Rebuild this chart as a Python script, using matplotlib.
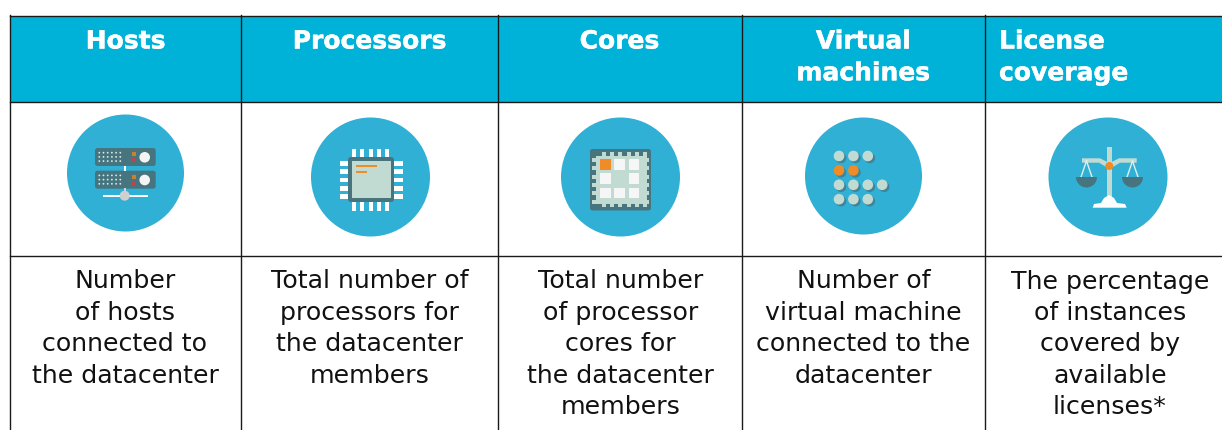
import matplotlib
matplotlib.use("Agg")
import matplotlib.pyplot as plt
from matplotlib.patches import Circle, Rectangle, FancyBboxPatch, Wedge, Polygon
import matplotlib.patheffects as pe

# Table content
headers = ["Hosts", "Processors", "Cores", "Virtual\nmachines", "License\ncoverage"]
descriptions = [
    "Number\nof hosts\nconnected to\nthe datacenter",
    "Total number of\nprocessors for\nthe datacenter\nmembers",
    "Total number\nof processor\ncores for\nthe datacenter\nmembers",
    "Number of\nvirtual machine\nconnected to the\ndatacenter",
    "The percentage\nof instances\ncovered by\navailable\nlicenses*",
]
col_edges = [9.5, 241, 498, 741.5, 985, 1222]
header_x = [125.5, 369.5, 619.5, 863.5, 999]
desc_x = [125, 369.5, 620.5, 863.5, 1110]
icon_x = [125.5, 370.5, 620.5, 863.5, 1108]
icon_y = [173, 177, 177, 176, 177]
icon_r = [58.5, 59.5, 59.5, 58.5, 59.5]
vm_rows = [3, 2, 4, 3]

HEAD = "#00b2d8"
ICON = "#30b0d5"
DARK = "#46757f"
PALE = "#c1dbd3"
ORANGE = "#f08c28"

fig = plt.figure(figsize=(12.22, 4.3), dpi=100)
ax = fig.add_axes([0, 0, 1, 1])
ax.set_xlim(0, 1222)
ax.set_ylim(430, 0)
ax.axis("off")


def rect(x0, y0, x1, y1, color, z=3):
    ax.add_patch(Rectangle((x0, y0), x1 - x0, y1 - y0, fc=color, ec="none", zorder=z))


def rrect(x0, y0, x1, y1, color, r=2.5, z=3):
    ax.add_patch(FancyBboxPatch((x0 + r, y0 + r), x1 - x0 - 2 * r, y1 - y0 - 2 * r,
                                boxstyle=f"round,pad={r}", fc=color, ec="none", zorder=z))


def dot(x, y, r, color, z=4):
    ax.add_patch(Circle((x, y), r, fc=color, ec="none", zorder=z))


# Header band and grid
rect(col_edges[0], 15.5, col_edges[-1], 101.5, HEAD, z=1)
for x in col_edges[:-1]:
    ax.plot([x, x], [15, 430], color="#1a1a1a", lw=1.0, zorder=2)
for y in [15.5, 101.5, 255.5]:
    ax.plot([col_edges[0], col_edges[-1]], [y, y], color="#1a1a1a", lw=1.0, zorder=2)

# Text
for i, (x, h) in enumerate(zip(header_x, headers)):
    ax.text(x, 29.5, h, color="white", fontsize=18, fontweight="bold", family="DejaVu Sans",
            ha="left" if i == 4 else "center", va="top", linespacing=1.41,
            multialignment="left" if i == 4 else "center",
            path_effects=[pe.withStroke(linewidth=0.3, foreground="white")])
for x, d in zip(desc_x, descriptions):
    ax.text(x, 269.5, d, color="#111111", fontsize=18.2, family="DejaVu Sans", ha="center", va="top",
            linespacing=1.387)

# Icon discs
for x, y, r in zip(icon_x, icon_y, icon_r):
    dot(x, y, r, ICON, z=2)

# Hosts icon
for top in [148, 170.7]:
    rrect(95, top, 155.7, top + 18, DARK)
    for row in range(3):
        for c in range(6):
            dot(99.3 + c * 4.2, top + 4.7 + row * 4.2, 0.9, "#dfe9e8")
    rect(131.7, top + 4.3, 135.7, top + 8.3, "#c8822c", z=4)
    rect(131.7, top + 10.3, 135.7, top + 14.3, "#b5474f", z=4)
    dot(144.7, top + 9.3, 5.3, "#f4f4f4")
rect(123.5, 166, 125.7, 171, "white")
rect(123.5, 188, 125.7, 196, "#d5d5d5")
rect(103.3, 194.7, 147.7, 196.7, "white")
dot(124.7, 195.7, 5, "#cfcfcf")

# Processor icon
for i in range(5):
    rect(352 + i * 8.3, 149, 356 + i * 8.3, 157, "white")
    rect(352 + i * 8.3, 202, 356 + i * 8.3, 210.5, "white")
    rect(339.5, 161 + i * 8.3, 348, 165.7 + i * 8.3, "white")
    rect(394, 161 + i * 8.3, 403, 165.7 + i * 8.3, "white")
rrect(348, 157, 394, 202, DARK, r=3)
rect(351.5, 161, 391, 198, PALE, z=4)
rect(356, 165.2, 377, 167.2, ORANGE, z=5)
rect(356, 171.2, 366.5, 173.2, ORANGE, z=5)

# Cores icon
rrect(590, 149, 651, 210.5, DARK, r=2.5)
rect(595.5, 155.5, 645.5, 204, PALE, z=4)
for i in range(6):
    rect(601.7 + i * 8.3, 152, 605.7 + i * 8.3, 207, PALE, z=4)
    rect(592, 158 + i * 8.3, 649, 162 + i * 8.3, PALE, z=4)
for (cx, cy) in [(0, 0), (1, 0), (2, 0), (0, 1), (2, 1), (0, 2), (1, 2), (2, 2)]:
    rect(600 + cx * 14.3, 159 + cy * 14.3, 610.7 + cx * 14.3, 169.5 + cy * 14.3,
         ORANGE if (cx, cy) == (0, 0) else "#f6f6f6", z=5)

# Virtual machines icon
for r, n in enumerate(vm_rows):
    for c in range(n):
        x = 839 + c * 14.4
        y = 156 + r * 14.4
        dot(x + 2, y + 2, 5.3, "#3f8498", z=3)
        dot(x, y, 5.3, ORANGE if r == 1 else PALE, z=4)

# License coverage icon
rect(1107.3, 147.3, 1111.7, 200, PALE)
ax.add_patch(Polygon([[1082, 158.3], [1100, 158.3], [1109.5, 163], [1119, 158.3], [1136.7, 158.3], [1136.7, 162.7],
                      [1120, 162.7], [1109.5, 169], [1099, 162.7], [1082, 162.7]],
                     fc=PALE, ec="none", zorder=3))
dot(1109.3, 166, 4, ORANGE)
for cx in [1086.5, 1132.5]:
    ax.plot([cx, cx - 5.5], [161, 177], color="#e4eeee", lw=1, zorder=3)
    ax.plot([cx, cx + 5.5], [161, 177], color="#e4eeee", lw=1, zorder=3)
    ax.add_patch(Wedge((cx, 177), 10.5, 0, 180, fc=DARK, ec="none", zorder=4))
ax.add_patch(Polygon([[1092.7, 207.7], [1094, 204], [1101, 203], [1104, 198], [1109, 195], [1114, 198],
                      [1117, 203], [1125, 204], [1126.7, 207.7]], fc="white", ec="none", zorder=4))

fig.savefig("out.png", dpi=100, facecolor="white")
